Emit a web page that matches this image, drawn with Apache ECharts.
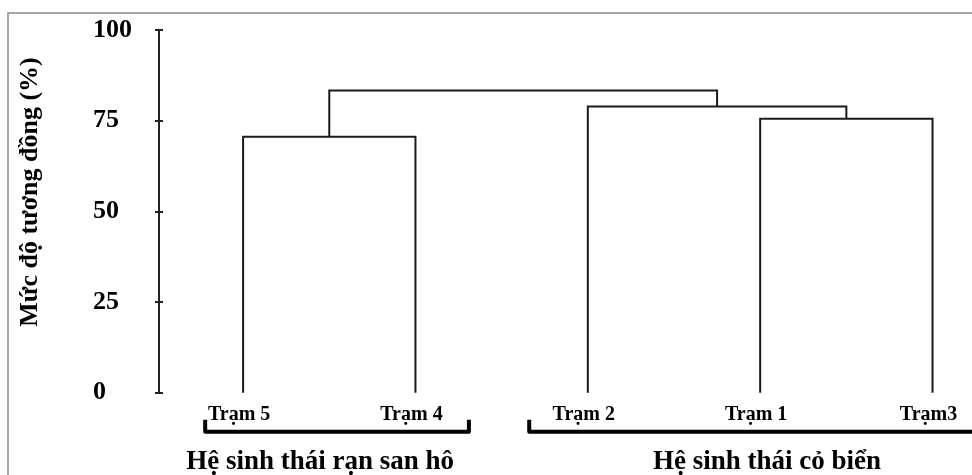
<!DOCTYPE html>
<html>
<head>
<meta charset="utf-8">
<script src="https://cdn.jsdelivr.net/npm/echarts@6/dist/echarts.min.js"></script>
<style>
html,body{margin:0;padding:0;background:#fff;}
#c{width:972px;height:475px;}
</style>
</head>
<body>
<div id="c"></div>
<script>
// ---- data ----
const leaves = ['Trạm 5', 'Trạm 4', 'Trạm 2', 'Trạm 1', 'Trạm3'];
// merges: ids 0..4 are leaves, merge k creates cluster id 5+k
const mergeLeft = [0, 3, 2, 5];
const mergeRight = [1, 4, 6, 7];
const mergeHeight = [70.6, 75.5, 78.9, 83.3];
const yTicks = [0, 25, 50, 75, 100];
const groupNames = ['Hệ sinh thái rạn san hô', 'Hệ sinh thái cỏ biển'];
const groupStart = [0.78, 2.66];
const groupEnd = [2.31, 5.3];
const groupLabelX = [1.447, 4.04];
const yAxisTitle = 'Mức độ tương đồng (%)';

// ---- build tree coordinates ----
const pos = leaves.map((_, i) => i + 1);
const hgt = leaves.map(() => 0);
const links = [];
mergeLeft.forEach((l, k) => {
  const r = mergeRight[k];
  const h = mergeHeight[k];
  links.push([pos[l], hgt[l], pos[r], hgt[r], h]);
  pos.push((pos[l] + pos[r]) / 2);
  hgt.push(h);
});
const leafData = leaves.map((n, i) => [i + 1, 0, n]);
const groupData = groupNames.map((n, i) => [groupStart[i], groupEnd[i], groupLabelX[i], n]);

const FONT = '"Liberation Serif", "Times New Roman", serif';
const chart = echarts.init(document.getElementById('c'));
chart.setOption({
  animation: false,
  backgroundColor: '#fff',
  grid: { left: 159, right: 5, top: 30, bottom: 82.3 },
  xAxis: { type: 'value', min: 0.512, max: 5.2, show: false },
  yAxis: [{
    type: 'value', min: yTicks[0], max: yTicks[yTicks.length - 1], interval: 25,
    axisLine: { show: true, lineStyle: { color: '#222', width: 2 } },
    axisTick: { show: true, length: 4, lineStyle: { color: '#222', width: 2 } },
    splitLine: { show: false },
    axisLabel: {
      align: 'left', margin: 66,
      color: '#000', fontFamily: FONT, fontWeight: 'bold', fontSize: 26
    }
  }, {
    type: 'value', min: yTicks[0], max: yTicks[yTicks.length - 1], interval: 25, position: 'left',
    axisLine: { show: false },
    axisTick: { show: true, inside: true, length: 4, lineStyle: { color: '#222', width: 2 } },
    axisLabel: { show: false }, splitLine: { show: false }
  }],
  graphic: [
    { type: 'polyline', shape: { points: [[8, 480], [8, 13], [980, 13]] },
      style: { stroke: '#a6a6a6', lineWidth: 2, fill: null } },
    { type: 'text', x: 30, y: 192, rotation: Math.PI / 2,
      style: { text: yAxisTitle, fontFamily: FONT, fontWeight: 'bold', fontSize: 26,
               fill: '#000', textAlign: 'center', textVerticalAlign: 'middle' } }
  ],
  series: [{
    type: 'custom', clip: false,
    data: links,
    renderItem: function (params, api) {
      const xl = api.value(0), hl = api.value(1), xr = api.value(2), hr = api.value(3), h = api.value(4);
      const pts = [api.coord([xl, hl]), api.coord([xl, h]), api.coord([xr, h]), api.coord([xr, hr])];
      return { type: 'polyline', shape: { points: pts },
               style: { stroke: '#1a1a1a', lineWidth: 2, fill: null } };
    }
  }, {
    type: 'custom', clip: false,
    data: leafData,
    renderItem: function (params, api) {
      const p = api.coord([api.value(0), 0]);
      return { type: 'text', x: p[0] - 4, y: p[1] + 22,
               style: { text: leafData[params.dataIndex][2], fontFamily: FONT, fontWeight: 'bold',
                        fontSize: 20, fill: '#000', textAlign: 'center', textVerticalAlign: 'middle' } };
    }
  }, {
    type: 'custom', clip: false,
    data: groupData,
    renderItem: function (params, api) {
      const a = api.coord([api.value(0), 0]);
      const b = api.coord([api.value(1), 0]);
      const c = api.coord([api.value(2), 0]);
      const y0 = a[1];
      return { type: 'group', children: [
        { type: 'polyline', shape: { points: [[a[0], y0 + 27], [a[0], y0 + 39], [b[0], y0 + 39], [b[0], y0 + 27]] },
          style: { stroke: '#000', lineWidth: 4, fill: null, lineJoin: 'round' } },
        { type: 'text', x: c[0], y: y0 + 69,
          style: { text: groupData[params.dataIndex][3], fontFamily: FONT, fontWeight: 'bold',
                   fontSize: 27, fill: '#000', textAlign: 'center', textVerticalAlign: 'middle' } }
      ] };
    }
  }]
});
</script>
</body>
</html>
